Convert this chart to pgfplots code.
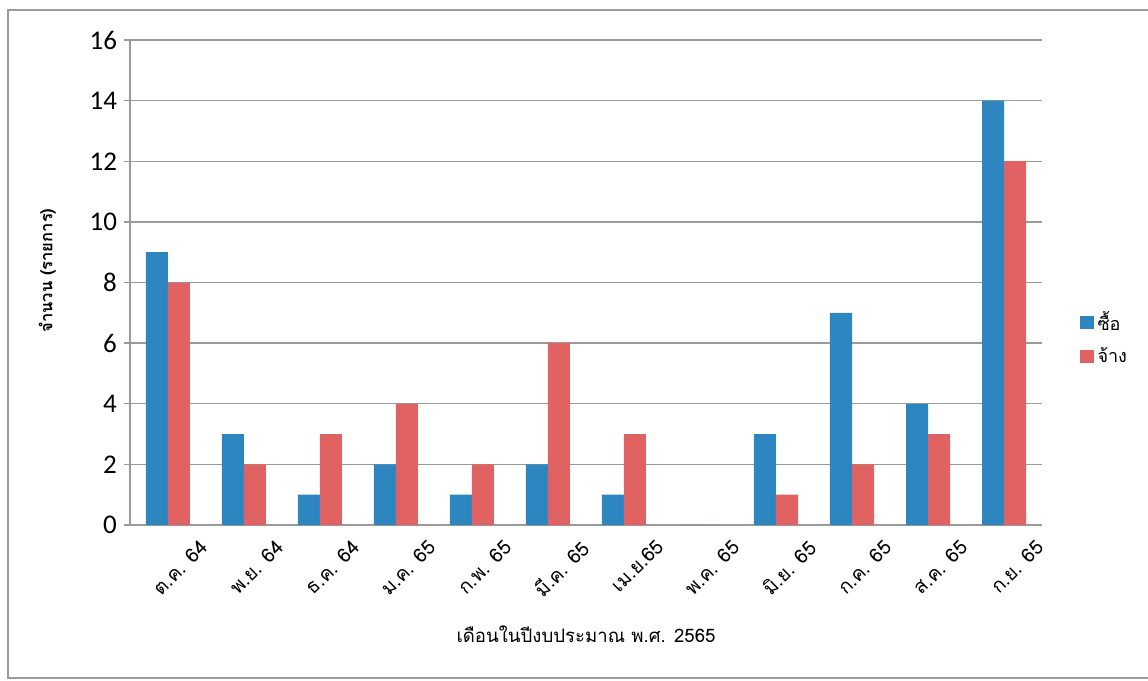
\documentclass[border=0pt]{standalone}
\usepackage{pgfplots}
\usepackage{pgfplotstable}
\pgfplotsset{compat=1.18}
\usepackage{fontspec}
\setmainfont{Carlito}
\newfontfamily\thai[Script=Thai]{Loma}

\definecolor{buyblue}{HTML}{2E86C1}
\definecolor{hirered}{HTML}{E06262}
\definecolor{gridgray}{HTML}{9A9A9A}

% months Oct 64 .. Sep 65: buy / hire
\pgfplotstableread{
x buy hire
0 9 8
1 3 2
2 1 3
3 2 4
4 1 2
5 2 6
6 1 3
7 0 0
8 3 1
9 7 2
10 4 3
11 14 12
}\monthdata

\begin{document}
\begin{tikzpicture}
\path[use as bounding box] (0,0) rectangle (574pt,340.5pt);
\draw[gridgray, line width=0.8pt] (574pt,335.5pt) -- (4pt,335.5pt) -- (4pt,1.5pt) -- (574pt,1.5pt);
\begin{axis}[
    at={(65pt,78pt)}, anchor=south west,
    scale only axis,
    width=456pt, height=242.5pt,
    ybar=0pt, bar width=11pt,
    xmin=-0.5, xmax=11.5,
    ymin=0, ymax=16,
    xtick={0,...,11},
    xticklabels={ต.ค. 64, พ.ย. 64, ธ.ค. 64, ม.ค. 65, ก.พ. 65, มี.ค. 65, เม.ย.65, พ.ค. 65, มิ.ย. 65, ก.ค. 65, ส.ค. 65, ก.ย. 65},
    x tick label style={font=\thai\fontsize{9.8}{11}\selectfont, rotate=45, anchor=north east, inner sep=1pt, xshift=9.5pt, yshift=-12.5pt},
    ytick={0,2,...,16},
    y tick label style={font=\fontsize{13.5}{15}\selectfont},
    /pgf/number format/assume math mode=true,
    ymajorgrids=true,
    grid style={gridgray, line width=0.7pt},
    axis x line*=bottom,
    axis y line*=left,
    axis line style={gridgray, line width=0.8pt},
    x axis line style={-},
    y axis line style={-},
    tick align=outside,
    xtick style={draw=none},
    ytick style={gridgray, line width=0.7pt},
    major tick length=3pt,
    xlabel={\thai\fontsize{9.3}{11}\selectfont เดือนในปีงบประมาณ พ.ศ. 2565},
    xlabel style={yshift=-9pt},
    ylabel={\thai\bfseries\fontsize{8.3}{10}\selectfont จำนวน (รายการ)},
    ylabel style={yshift=10pt, xshift=6pt},
    legend style={at={(1.035,0.385)}, anchor=west, draw=none, fill=none,
        font=\thai\fontsize{9}{11}\selectfont, row sep=3pt,
        /tikz/every even column/.append style={column sep=2pt}},
    legend cell align=left,
    legend image code/.code={\fill[#1] (0pt,-3.3pt) rectangle (6.6pt,3.3pt);},
]
\addplot[fill=buyblue, draw=none] table[x=x, y=buy] {\monthdata};
\addlegendentry{ซื้อ}
\addplot[fill=hirered, draw=none] table[x=x, y=hire] {\monthdata};
\addlegendentry{จ้าง}
\end{axis}
\end{tikzpicture}
\end{document}
